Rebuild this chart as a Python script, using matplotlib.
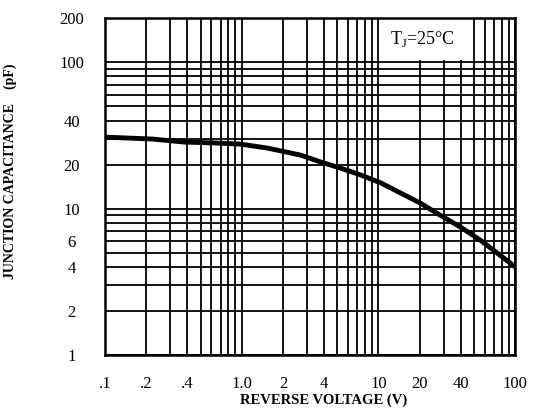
import numpy as np
import matplotlib
matplotlib.use("Agg")
import matplotlib.pyplot as plt
from matplotlib.patches import Rectangle
from matplotlib.ticker import LogLocator, NullFormatter, FixedLocator, FixedFormatter

# curve: reverse voltage (V) vs junction capacitance (pF)
voltage = [0.1, 0.22, 0.38, 0.63, 0.98, 1.55, 2.7, 3.8, 5.3, 7.4, 10.4,
           14.5, 20.3, 28.4, 39.7, 55.6, 77.8, 100]
capacitance = [30.8, 29.9, 28.5, 28.1, 27.6, 25.9, 23.2, 20.8, 18.9, 17.0, 15.0,
               12.8, 10.9, 9.0, 7.5, 6.1, 4.8, 4.0]

x_ticks = [0.1, 0.2, 0.4, 1, 2, 4, 10, 20, 40, 100]
x_labels = [".1", ".2", ".4", "1.0", "2", "4", "10", "20", "40", "100"]
y_ticks = [1, 2, 4, 6, 10, 20, 40, 100, 200]
y_labels = ["1", "2", "4", "6", "10", "20", "40", "100", "200"]

plt.rcParams['font.family'] = ['Liberation Serif', 'DejaVu Serif']
plt.rcParams['mathtext.fontset'] = 'custom'
plt.rcParams['mathtext.rm'] = 'Liberation Serif'

fig = plt.figure(figsize=(5.44, 4.12), dpi=100)
ax = fig.add_axes([0.193, 0.138, 0.754, 0.818])

ax.set_xscale('log')
ax.set_yscale('log')
ax.set_xlim(0.1, 100)
ax.set_ylim(1, 200)

# full log grid, major + minor, all black
ax.xaxis.set_minor_locator(LogLocator(base=10, subs=np.arange(2, 10)))
ax.yaxis.set_minor_locator(LogLocator(base=10, subs=np.arange(2, 10)))
ax.xaxis.set_minor_formatter(NullFormatter())
ax.yaxis.set_minor_formatter(NullFormatter())
ax.grid(True, which='both', color='black', linewidth=1.3)
ax.set_axisbelow(True)

ax.xaxis.set_major_locator(FixedLocator(x_ticks))
ax.xaxis.set_major_formatter(FixedFormatter(x_labels))
ax.yaxis.set_major_locator(FixedLocator(y_ticks))
ax.yaxis.set_major_formatter(FixedFormatter(y_labels))
ax.tick_params(which='both', length=0)
ax.tick_params(axis='x', pad=15, labelsize=12)
ax.tick_params(axis='y', pad=24, labelsize=12)
for t in ax.get_yticklabels():
    t.set_ha('center')

for s in ax.spines.values():
    s.set_linewidth(1.8)
    s.set_color('black')

ax.plot(voltage, capacitance, color='black', linewidth=3.5, solid_capstyle='butt', zorder=3)

# white label panel in the upper right, between the 10 V and 50 V grid lines
ax.add_patch(Rectangle((0.671, 0.876), 0.224, 0.124, transform=ax.transAxes,
                       facecolor='white', edgecolor='none', zorder=1))
ax.text(0.773, 0.938, r"T$_\mathregular{J}$=25°C", transform=ax.transAxes, fontsize=13,
        ha='center', va='center', zorder=2)

ax.set_xlabel("REVERSE VOLTAGE (V)", fontsize=10.5, fontweight='bold')
ax.xaxis.set_label_coords(0.532, -0.115)
ax.set_ylabel("JUNCTION CAPACITANCE    (pF)", fontsize=10, fontweight='bold')
ax.yaxis.set_label_coords(-0.215, 0.546)

fig.savefig("out.png", dpi=100)
